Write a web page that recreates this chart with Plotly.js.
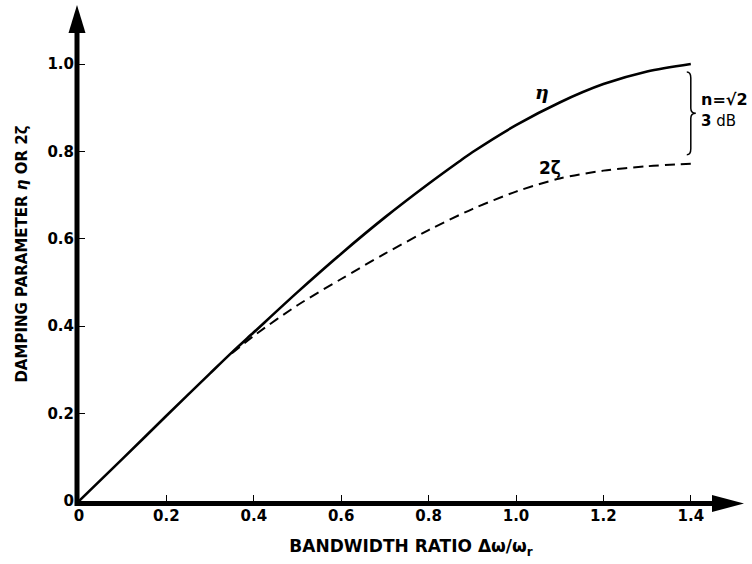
<!DOCTYPE html>
<html><head><meta charset="utf-8">
<script src="https://cdn.plot.ly/plotly-3.0.1.min.js"></script>
<style>body{margin:0;background:#fff}</style></head>
<body><div id="chart" style="width:752px;height:564px"></div>
<script>
// ---- data ----
const etaX  = [0, 0.1, 0.2, 0.3, 0.35, 0.4, 0.5, 0.6, 0.7, 0.8, 0.87, 0.9, 1.0, 1.1, 1.2, 1.3, 1.4];
const etaY  = [0, 0.097, 0.195, 0.292, 0.340, 0.386, 0.478, 0.566, 0.649, 0.726, 0.777, 0.798, 0.860, 0.912, 0.954, 0.983, 1.0];
const zetaX = [0.35, 0.4, 0.5, 0.6, 0.7, 0.8, 0.9, 1.0, 1.1, 1.2, 1.3, 1.4];
const zetaY = [0.338, 0.378, 0.448, 0.508, 0.566, 0.620, 0.668, 0.708, 0.738, 0.756, 0.766, 0.772];
const xTickVals = [0, 0.2, 0.4, 0.6, 0.8, 1.0, 1.2, 1.4];
const xTickText = ['0', '0.2', '0.4', '0.6', '0.8', '1.0', '1.2', '1.4'];
const yTickVals = [0, 0.2, 0.4, 0.6, 0.8, 1.0];
const yTickText = ['0', '0.2', '0.4', '0.6', '0.8', '1.0'];

// ---- geometry ----
const W = 752, H = 564;
const M = {l: 79, r: 9, t: 7, b: 63};
const PPU = 437;                       // pixels per unit, both axes
const pw = W - M.l - M.r, ph = H - M.t - M.b;
const xMax = pw / PPU, yMax = ph / PPU;
const k = 1 / PPU;                     // one pixel in data units
const px = (x) => (x - M.l) / pw;      // pixel -> paper
const py = (y) => (H - M.b - y) / ph;

const FONT = 'DejaVu Sans, Verdana, sans-serif';

// brace between end of eta and end of 2zeta
const xe = etaX[etaX.length - 1];
const yTop = etaY[etaY.length - 1] - 8 * k;
const yBot = zetaY[zetaY.length - 1] + 9 * k;
const yMid = (yTop + yBot) / 2;
const bx0 = xe - 4 * k, bx1 = xe + 0 * k, bx2 = xe + 5 * k;
const brace = `M ${bx0} ${yTop} Q ${bx1} ${yTop} ${bx1} ${yTop - 6*k} L ${bx1} ${yMid + 5*k} ` +
  `Q ${bx1} ${yMid} ${bx2} ${yMid} Q ${bx1} ${yMid} ${bx1} ${yMid - 5*k} ` +
  `L ${bx1} ${yBot + 6*k} Q ${bx1} ${yBot} ${bx0} ${yBot}`;

const traces = [
  {x: etaX, y: etaY, mode: 'lines', line: {color: '#000', width: 2.6, shape: 'spline', smoothing: 0.8}, hoverinfo: 'skip'},
  {x: zetaX, y: zetaY, mode: 'lines', line: {color: '#000', width: 2, dash: '10px,6px', shape: 'spline', smoothing: 0.8}, hoverinfo: 'skip'}
];

const axisCommon = {
  showgrid: false, zeroline: false, showline: false,
  ticks: 'inside', ticklen: 6, tickwidth: 1, tickcolor: '#000',
  tickfont: {family: FONT, size: 15, color: '#000', weight: 700},
  tickmode: 'array', fixedrange: true
};

const layout = {
  width: W, height: H, margin: M, showlegend: false,
  paper_bgcolor: '#fff', plot_bgcolor: '#fff',
  xaxis: Object.assign({}, axisCommon, {
    range: [0, xMax], tickvals: xTickVals, ticktext: xTickText, ticklabelstandoff: 4,
    title: {text: 'BANDWIDTH RATIO Δω/ω<sub>r</sub>', font: {family: FONT, size: 17, color: '#000', weight: 700}, standoff: 16}
  }),
  yaxis: Object.assign({}, axisCommon, {
    range: [0, yMax], tickvals: yTickVals, ticktext: yTickText, ticklabelstandoff: 4,
    title: {text: 'DAMPING PARAMETER <i>η</i> OR 2ζ', font: {family: FONT, size: 15, color: '#000', weight: 700}, standoff: 16}
  }),
  shapes: [
    // axis lines
    {type: 'line', xref: 'paper', yref: 'paper', x0: px(77), x1: px(77), y0: py(506), y1: py(20), line: {color: '#000', width: 5}},
    {type: 'line', xref: 'paper', yref: 'paper', x0: px(75), x1: px(720), y0: py(503.5), y1: py(503.5), line: {color: '#000', width: 5}},
    // arrowheads
    {type: 'path', xref: 'paper', yref: 'paper', fillcolor: '#000', line: {width: 0},
     path: `M ${px(77)} ${py(5)} L ${px(68.5)} ${py(33)} L ${px(85.5)} ${py(33)} Z`},
    {type: 'path', xref: 'paper', yref: 'paper', fillcolor: '#000', line: {width: 0},
     path: `M ${px(744)} ${py(503.5)} L ${px(712)} ${py(495)} L ${px(712)} ${py(512)} Z`},
    // brace
    {type: 'path', xref: 'x', yref: 'y', line: {color: '#000', width: 1.5}, path: brace}
  ],
  annotations: [
    {x: 1.06, y: 0.935, xref: 'x', yref: 'y', text: '<i>η</i>', showarrow: false,
     font: {family: 'DejaVu Serif, serif', size: 19, color: '#000', weight: 700}},
    {x: 1.078, y: 0.762, xref: 'x', yref: 'y', text: '2ζ', showarrow: false,
     font: {family: FONT, size: 17, color: '#000', weight: 700}},
    {x: xe + 8 * k, y: yMid + 14 * k, xref: 'x', yref: 'y', xanchor: 'left', text: 'n=√2', showarrow: false,
     font: {family: FONT, size: 16, color: '#000', weight: 700}},
    {x: xe + 8 * k, y: yMid - 8 * k, xref: 'x', yref: 'y', xanchor: 'left', text: '<b>3</b> dB', showarrow: false,
     font: {family: FONT, size: 15, color: '#000'}}
  ]
};

Plotly.newPlot('chart', traces, layout, {displayModeBar: false, staticPlot: true});
</script>
</body></html>
